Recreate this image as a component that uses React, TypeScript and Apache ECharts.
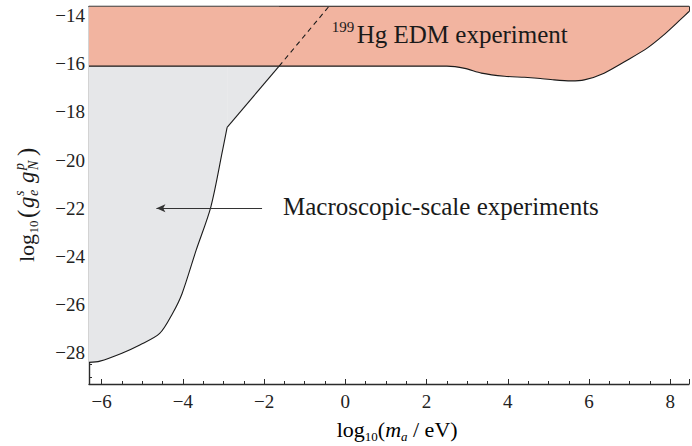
import React, { useEffect, useRef } from 'react';
import * as echarts from 'echarts';

const X_MIN = -6.31;
const X_MAX = 8.46;
const Y_MIN = -29.3;
const Y_MAX = -13.63;

// 199Hg EDM experiment bound (excluded region above)
const hgEdmX = [-6.31, 2.5, 2.94, 3.35, 3.92, 4.41, 4.73, 5.14, 5.55, 5.88, 6.37, 6.98, 7.43, 7.84, 8.24, 8.46];
const hgEdmY = [-16.1, -16.1, -16.19, -16.39, -16.52, -16.56, -16.6, -16.67, -16.71, -16.67, -16.39, -15.81, -15.35, -14.8, -14.18, -13.83];

// Macroscopic-scale experiments bound (curved part)
const macroCurveX = [-6.31, -6.04, -5.5, -5.06, -4.57, -4.25, -4.02, -3.67, -3.31, -3.02, -2.91];
const macroCurveY = [-28.4, -28.35, -28.02, -27.68, -27.2, -26.36, -25.55, -23.73, -21.94, -19.58, -18.64];
// straight part
const macroLineX = [-2.91, -1.63];
const macroLineY = [-18.64, -16.1];
// dashed continuation
const extX = [-1.63, -0.41];
const extY = [-16.1, -13.63];

const arrowFrom = [-2.05, -22];
const arrowTo = [-4.65, -22];

const SERIF = "'Liberation Serif', serif";
const AX = '#2b2b2b';

const pts = (xs: number[], ys: number[]) => xs.map((x, i) => [x, ys[i]]);

const fmt = (v: number) => {
  const r = Math.round(v);
  if (Math.abs(v - r) > 1e-6 || r % 2 !== 0) return '';
  return r < 0 ? '\u2212' + -r : String(r);
};

const tickLabel = (margin: number) => ({
  margin,
  fontFamily: SERIF,
  fontSize: 19,
  color: '#222',
  formatter: fmt,
});

const axisCommon = () => ({
  type: 'value',
  axisLine: { show: true, onZero: false, lineStyle: { color: AX, width: 1.4 } },
  axisTick: { show: true, inside: true, length: 5, lineStyle: { color: AX, width: 1 } },
  minorTick: { show: true, splitNumber: 4, length: 3, lineStyle: { color: AX, width: 1 } },
  splitLine: { show: false },
  minorSplitLine: { show: false },
});

export default function App() {
  const ref = useRef<HTMLDivElement>(null);
  useEffect(() => {
    if (!ref.current) return;
    const chart = echarts.init(ref.current, null, { renderer: 'svg' });
    const t = (x: number, y: number, text: string, fs: number, italic = false) => ({
      type: 'text',
      x,
      y,
      z: 100,
      style: {
        text,
        fontSize: fs,
        fontFamily: SERIF,
        fontStyle: italic ? 'italic' : 'normal',
        fill: '#1a1a1a',
        align: 'left',
        verticalAlign: 'middle',
      },
    });
    const mainC = 26.6;
    const subC = 33.8;
    const supC = 19.6;
    chart.setOption({
      animation: false,
      grid: { left: 89, top: 6.7, right: 0, bottom: 62 },
      xAxis: [
        {
          ...axisCommon(),
          min: X_MIN,
          max: X_MAX,
          splitNumber: 7,
          position: 'bottom',
          axisLabel: tickLabel(8),
        },
        {
          ...axisCommon(),
          min: X_MIN,
          max: X_MAX,
          splitNumber: 7,
          position: 'top',
          axisLabel: { show: false },
        },
      ],
      yAxis: [
        {
          ...axisCommon(),
          min: Y_MIN,
          max: Y_MAX,
          splitNumber: 7,
          axisLabel: tickLabel(4),
        },
      ],
      series: [
        {
          type: 'line',
          data: pts(macroCurveX, macroCurveY),
          symbol: 'none',
          smooth: 0.3,
          lineStyle: { color: '#1a1a1a', width: 1.1 },
          areaStyle: { color: '#e6e7e9', opacity: 1, origin: 'end' },
          z: 1,
        },
        {
          type: 'line',
          data: pts(macroLineX, macroLineY),
          symbol: 'none',
          lineStyle: { color: '#1a1a1a', width: 1.1 },
          areaStyle: { color: '#e6e7e9', opacity: 1, origin: 'end' },
          z: 1,
        },
        {
          type: 'line',
          data: pts(hgEdmX, hgEdmY),
          symbol: 'none',
          smooth: 0.25,
          lineStyle: { color: '#1a1a1a', width: 1.1 },
          areaStyle: { color: '#f2b4a0', opacity: 1, origin: 'end' },
          z: 2,
        },
        {
          type: 'line',
          data: pts(extX, extY),
          symbol: 'none',
          lineStyle: { color: '#1a1a1a', width: 1.1, type: [5, 4] },
          z: 3,
          markLine: {
            silent: true,
            symbol: ['none', 'arrow'],
            symbolSize: [6, 9],
            label: { show: false },
            lineStyle: { color: '#333', width: 1, type: 'solid' },
            data: [[{ coord: arrowFrom }, { coord: arrowTo }]],
          },
        },
      ],
      graphic: [
        t(331.7, 26.6, '199', 15),
        t(356.7, 34, 'Hg EDM experiment', 25),
        t(283, 206.6, 'Macroscopic-scale experiments', 25),
        {
          type: 'text',
          x: 336.7,
          y: 429.6,
          z: 100,
          style: {
            text: '{n|log}{s|10}{n|(}{i|m}{is|a}{n| / eV)}',
            align: 'left',
            verticalAlign: 'middle',
            rich: {
              n: { fontSize: 22, lineHeight: 26, fontFamily: SERIF, color: '#1a1a1a' },
              s: { fontSize: 13, lineHeight: 13, fontFamily: SERIF, color: '#1a1a1a', verticalAlign: 'bottom' },
              i: { fontSize: 22, lineHeight: 26, fontFamily: SERIF, fontStyle: 'italic', color: '#1a1a1a' },
              is: { fontSize: 13, lineHeight: 13, fontFamily: SERIF, fontStyle: 'italic', color: '#1a1a1a', verticalAlign: 'bottom' },
            },
          },
        },
        {
          type: 'group',
          x: 0,
          y: 262,
          rotation: Math.PI / 2,
          children: [
            t(0, mainC, 'log', 22),
            t(28.5, subC, '10', 13),
            t(44, mainC, '(', 25),
            t(54, mainC, 'g', 23, true),
            t(66, supC, 's', 14, true),
            t(66, subC, 'e', 14, true),
            t(79, mainC, 'g', 23, true),
            t(92, supC, 'p', 14, true),
            t(92, subC, 'N', 14, true),
            t(106, mainC, ')', 25),
          ],
        },
      ],
    });
    return () => chart.dispose();
  }, []);
  return <div ref={ref} style={{ position: 'absolute', left: 0, top: 0, width: 692, height: 446 }} />;
}
